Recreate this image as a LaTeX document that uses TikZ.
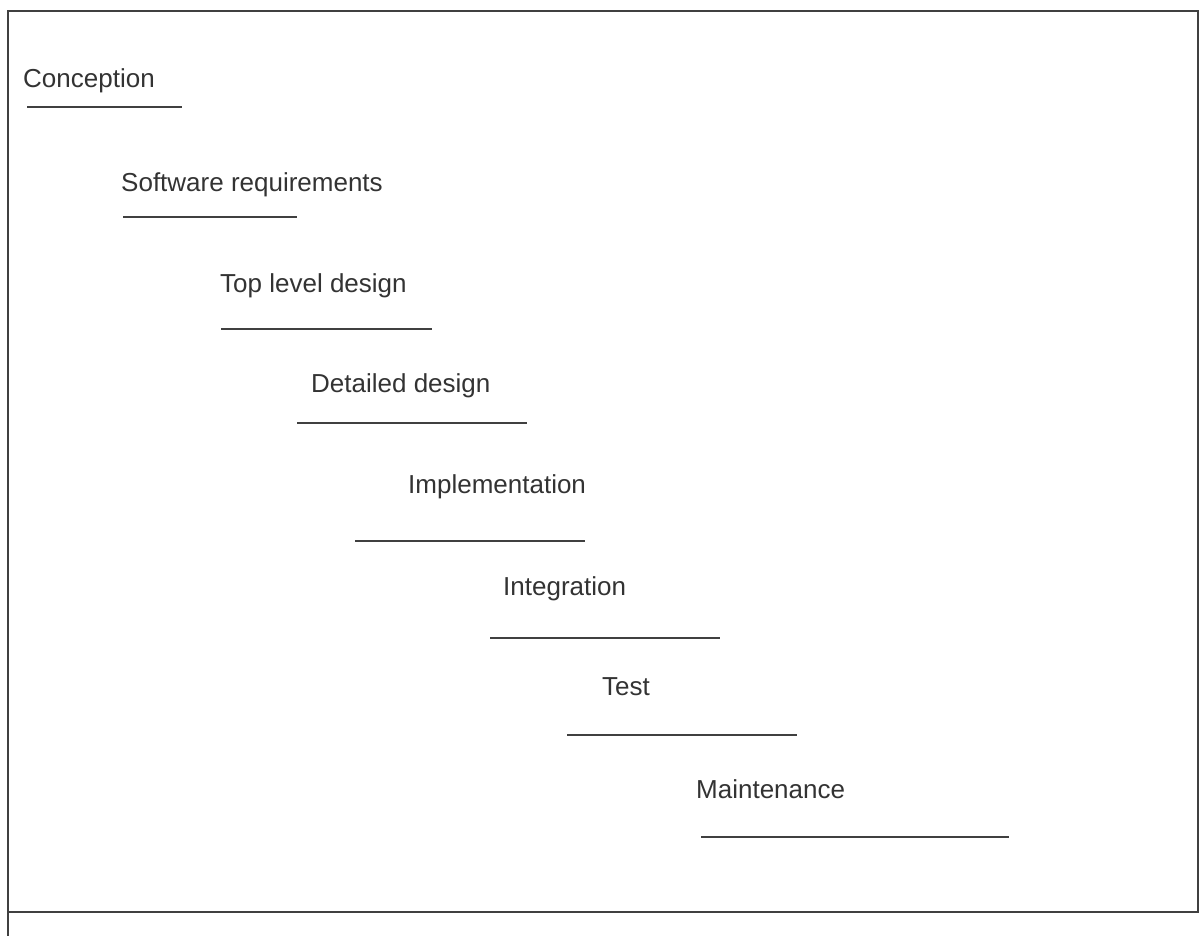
\documentclass[tikz,border=0pt]{standalone}
\usepackage{fontspec}
\setmainfont{Liberation Sans}
\begin{document}
\begin{tikzpicture}[x=1pt,y=-1pt,
  phase/.style={anchor=base west,inner sep=0pt,text=black!80,font=\fontsize{26}{30}\selectfont},
  rule/.style={draw=black!75,line width=1.3pt},
  frame/.style={draw=black!75,line width=1.6pt}]
\useasboundingbox (0,0) rectangle (1201,936);
% frame
\draw[frame] (8,936) -- (8,11) -- (1198,11) -- (1198,912) -- (8,912);
% phases
\node[phase] (p1) at (23,88) {Conception};
\node[phase] (p2) at (121,191) {Software requirements};
\node[phase] (p3) at (220,292) {Top level design};
\node[phase] (p4) at (311,392) {Detailed design};
\node[phase] (p5) at (408,493) {Implementation};
\node[phase] (p6) at (503,595) {Integration};
\node[phase] (p7) at (602,695) {Test};
\node[phase] (p8) at (696,798) {Maintenance};
% underlines
\draw[rule] (27,107) -- (182,107);
\draw[rule] (123,217) -- (297,217);
\draw[rule] (221,329) -- (432,329);
\draw[rule] (297,423) -- (527,423);
\draw[rule] (355,541) -- (585,541);
\draw[rule] (490,638) -- (720,638);
\draw[rule] (567,735) -- (797,735);
\draw[rule] (701,837) -- (1009,837);
\end{tikzpicture}
\end{document}
